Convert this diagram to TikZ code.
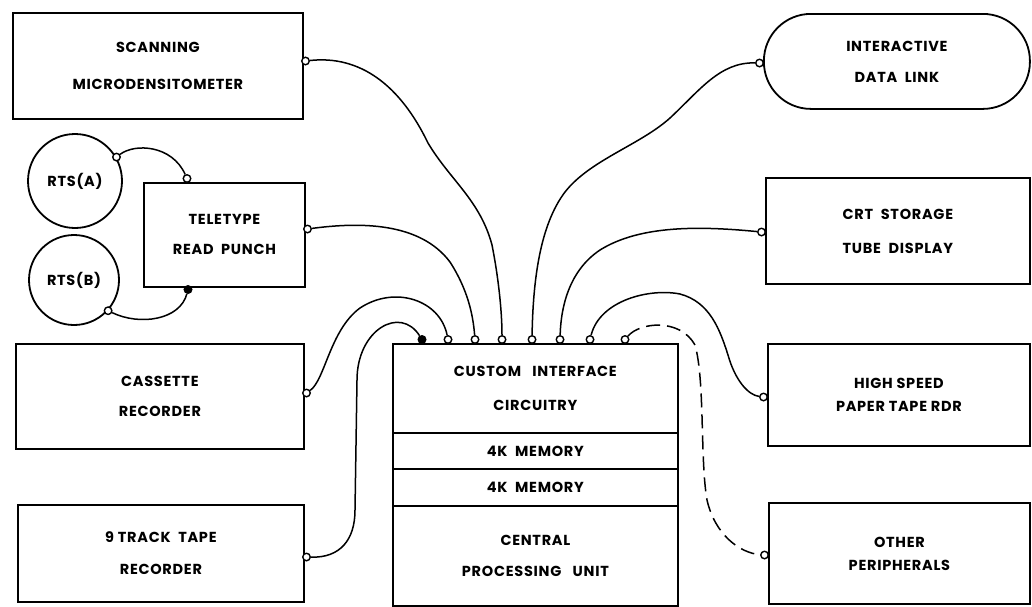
\documentclass[tikz,border=0pt]{standalone}
\usepackage{fontspec}
\setmainfont{Poppins}
\usetikzlibrary{calc}
\newcommand\boxfont{\bfseries\fontsize{14.5}{17}\selectfont\addfontfeatures{LetterSpace=5}}
\tikzset{
  unit/.style={draw, rectangle, line width=1.8pt, anchor=north west, align=center,
    inner sep=0pt, font=\boxfont},
  reel/.style={draw, circle, line width=1.8pt, inner sep=0pt, align=center, font=\boxfont},
  port/.style={draw, circle, line width=1.4pt, fill=white, inner sep=0pt, minimum size=7.5pt},
  portf/.style={port, fill=black},
  wire/.style={line width=1.5pt},
  dwire/.style={wire, dash pattern=on 14pt off 7pt}
}
\begin{document}
\begin{tikzpicture}[x=1pt, y=-1pt]
\useasboundingbox (0,0) rectangle (1032,606);

% peripheral units, left column
\node[unit, minimum width=290pt, minimum height=106pt] (scan) at (12,12)
  {SCANNING\\[20pt]MICRODENSITOMETER};
\node[unit, minimum width=161pt, minimum height=104pt] (tele) at (143,182)
  {TELETYPE\\[13pt]READ\ \ PUNCH};
\node[unit, minimum width=288pt, minimum height=105pt] (cass) at (15,343)
  {CASSETTE\\[13pt]RECORDER};
\node[unit, minimum width=286pt, minimum height=97pt] (track) at (17,504)
  {9 TRACK\ \ TAPE\\[15pt]RECORDER};

% paper tape reels
\node[reel, minimum size=94pt] (rtsA) at (75,181) {RTS(A)};
\node[reel, minimum size=90pt] (rtsB) at (74,280) {RTS(B)};

% peripheral units, right column
\node[unit, minimum width=266pt, minimum height=95pt, rounded corners=47pt] (link) at (763,13)
  {INTERACTIVE\\[14pt]DATA\ \ LINK};
\node[unit, minimum width=264pt, minimum height=106pt] (crt) at (765,177)
  {CRT\ \ STORAGE\\[17pt]TUBE\ \ DISPLAY};
\node[unit, minimum width=262pt, minimum height=102pt] (hs) at (767,343)
  {HIGH SPEED\\[6pt]PAPER TAPE RDR};
\node[unit, minimum width=261pt, minimum height=101pt] (oth) at (768,502)
  {OTHER\\[6pt]PERIPHERALS};

% the computer: interface, two memory banks, CPU
\node[unit, minimum width=285pt, minimum height=89pt] (ci) at (392,343)
  {CUSTOM\ \ \ INTERFACE\\[17pt]CIRCUITRY};
\node[unit, minimum width=285pt, minimum height=36pt] (m1) at (392,432) {4K\ \ MEMORY};
\node[unit, minimum width=285pt, minimum height=37pt] (m2) at (392,468) {4K\ \ MEMORY};
\node[unit, minimum width=285pt, minimum height=100pt] (cu) at (392,505)
  {CENTRAL\\[14pt]PROCESSING\ \ \ UNIT};

% connector sockets
\node[port] (pScan) at (305.5,61) {};
\node[port] (pTeleE) at (307.5,229) {};
\node[port] (pTeleN) at (187,178.5) {};
\node[portf] (pTeleS) at (188,289.5) {};
\node[port] (pA) at (rtsA.30) {};
\node[port] (pB) at (rtsB.-42) {};
\node[port] (pCass) at (306.5,393) {};
\node[port] (pTrack) at (306.5,557) {};
\node[port] (pLink) at (759.5,63) {};
\node[port] (pCrt) at (761.5,232) {};
\node[port] (pHs) at (763.5,397) {};
\node[port] (pOth) at (764.5,555) {};
\node[portf] (c1) at (422,339.5) {};
\node[port] (c2) at (448,339.5) {};
\node[port] (c3) at (475,339.5) {};
\node[port] (c4) at (502,339.5) {};
\node[port] (c5) at (532,339.5) {};
\node[port] (c6) at (560,339.5) {};
\node[port] (c7) at (590,339.5) {};
\node[port] (c8) at (625,339.5) {};

% cables
\draw[wire] (pA) .. controls (135,143) and (172,145) .. (pTeleN);
\draw[wire] (pB) .. controls (140,326) and (180,320) .. (pTeleS);
\draw[wire] (pScan) .. controls (360,55) and (400,85) .. (428,143)
  .. controls (450,180) and (480,200) .. (492,245)
  .. controls (498,275) and (502,310) .. (c4);
\draw[wire] (pTeleE) .. controls (360,222) and (420,222) .. (450,262)
  .. controls (468,290) and (473,315) .. (c3);
\draw[wire] (pCass) .. controls (325,380) and (330,330) .. (360,308)
  .. controls (395,285) and (440,300) .. (c2);
\draw[wire] (pTrack) .. controls (340,558) and (355,540) .. (355,510) -- (357,380)
  .. controls (357,330) and (400,305) .. (c1);
\draw[wire] (pLink) .. controls (720,62) and (700,90) .. (670,118)
  .. controls (640,145) and (590,160) .. (565,192)
  .. controls (540,225) and (533,280) .. (c5);
\draw[wire] (pCrt) .. controls (700,226) and (640,225) .. (600,250)
  .. controls (570,270) and (561,305) .. (c6);
\draw[wire] (c7) .. controls (600,300) and (650,288) .. (680,294)
  .. controls (710,302) and (720,330) .. (728,355)
  .. controls (735,380) and (748,395) .. (pHs);
\draw[dwire] (c8) .. controls (640,322) and (680,318) .. (695,345)
  .. controls (705,380) and (700,460) .. (707,500)
  .. controls (715,535) and (740,553) .. (pOth);
\end{tikzpicture}
\end{document}
